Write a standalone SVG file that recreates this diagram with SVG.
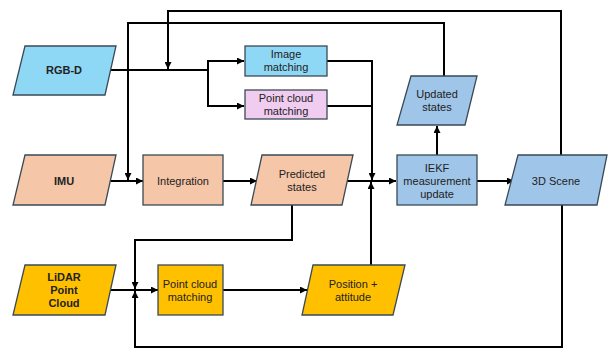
<svg xmlns="http://www.w3.org/2000/svg" width="613" height="349" viewBox="0 0 613 349">
<defs>
<marker id="ah" viewBox="0 0 10 10" refX="10" refY="5" markerWidth="3.5" markerHeight="3.5" orient="auto" markerUnits="strokeWidth">
<path d="M0,0 L10,5 L0,10 z" fill="#000"/>
</marker>
<style>
.n{stroke:#3a4a55;stroke-width:1.3}
.t{font-family:"Liberation Sans",Arial,sans-serif;font-size:11px;fill:#222;text-anchor:middle}
.b{font-weight:bold}
.c{fill:none;stroke:#000;stroke-width:2}
.a{marker-end:url(#ah)}
.blue{fill:#8fd8f5}
.pink{fill:#f0ccf0}
.sal{fill:#f6c6a8}
.sky{fill:#9fc5e8}
.yel{fill:#ffc000}
</style>
</defs>
<rect width="613" height="349" fill="#fff"/>
<g id="connectors">
<polyline class="c" points="110,70 208,70"/>
<polyline class="c a" points="208,70 208,61 244,61"/>
<polyline class="c a" points="208,70 208,106 244,106"/>
<polyline class="c" points="327,61 372,61 372,106"/>
<polyline class="c a" points="327,106 372,106 372,180"/>
<polyline class="c a" points="444,76 444,23 128,23 128,180"/>
<polyline class="c a" points="561,155 561,11 168,11 168,69"/>
<polyline class="c a" points="110,181 143,181"/>
<polyline class="c a" points="223,181 257,181"/>
<polyline class="c a" points="347,181 396,181"/>
<polyline class="c a" points="437,155 437,126"/>
<polyline class="c a" points="477,181 514,181"/>
<polyline class="c a" points="292,205 292,240 135,240 135,289"/>
<polyline class="c a" points="562,205 562,347 135,347 135,291"/>
<polyline class="c a" points="110,290 158,290"/>
<polyline class="c a" points="223,290 307,290"/>
<polyline class="c a" points="371,265 371,182"/>
</g>
<g id="rgbd"><polygon class="n blue" points="25,46 116,46 105,95 13,95"/><text class="t b" x="64" y="74">RGB-D</text></g>
<g id="image-matching"><rect class="n blue" x="245" y="46" width="82" height="30"/><text class="t" x="286" y="58">Image</text><text class="t" x="286" y="71">matching</text></g>
<g id="pc-matching-rgbd"><rect class="n pink" x="245" y="90" width="82" height="29"/><text class="t" x="286" y="102">Point cloud</text><text class="t" x="286" y="115">matching</text></g>
<g id="updated-states"><polygon class="n sky" points="411,76 477,76 465,125 397,125"/><text class="t" x="437" y="98">Updated</text><text class="t" x="437" y="111">states</text></g>
<g id="imu"><polygon class="n sal" points="25,155 116,155 105,205 13,205"/><text class="t b" x="64" y="185">IMU</text></g>
<g id="integration"><rect class="n sal" x="143" y="155" width="80" height="50"/><text class="t" x="183" y="185">Integration</text></g>
<g id="predicted-states"><polygon class="n sal" points="262,155 353,155 342,205 251,205"/><text class="t" x="302" y="178">Predicted</text><text class="t" x="302" y="191">states</text></g>
<g id="iekf"><rect class="n sky" x="397" y="155" width="80" height="50"/><text class="t" x="437" y="172">IEKF</text><text class="t" x="437" y="185">measurement</text><text class="t" x="437" y="198">update</text></g>
<g id="scene"><polygon class="n sky" points="518,155 607,155 597,205 505,205"/><text class="t" x="556" y="185">3D Scene</text></g>
<g id="lidar"><polygon class="n yel" points="25,265 116,265 105,315 13,315"/><text class="t b" x="64" y="281">LiDAR</text><text class="t b" x="64" y="294">Point</text><text class="t b" x="64" y="307">Cloud</text></g>
<g id="pc-matching-lidar"><rect class="n yel" x="158" y="265" width="65" height="50"/><text class="t" x="190" y="288">Point cloud</text><text class="t" x="190" y="301">matching</text></g>
<g id="position"><polygon class="n yel" points="313,265 405,265 393,315 302,315"/><text class="t" x="353" y="288">Position +</text><text class="t" x="353" y="301">attitude</text></g>
</svg>
